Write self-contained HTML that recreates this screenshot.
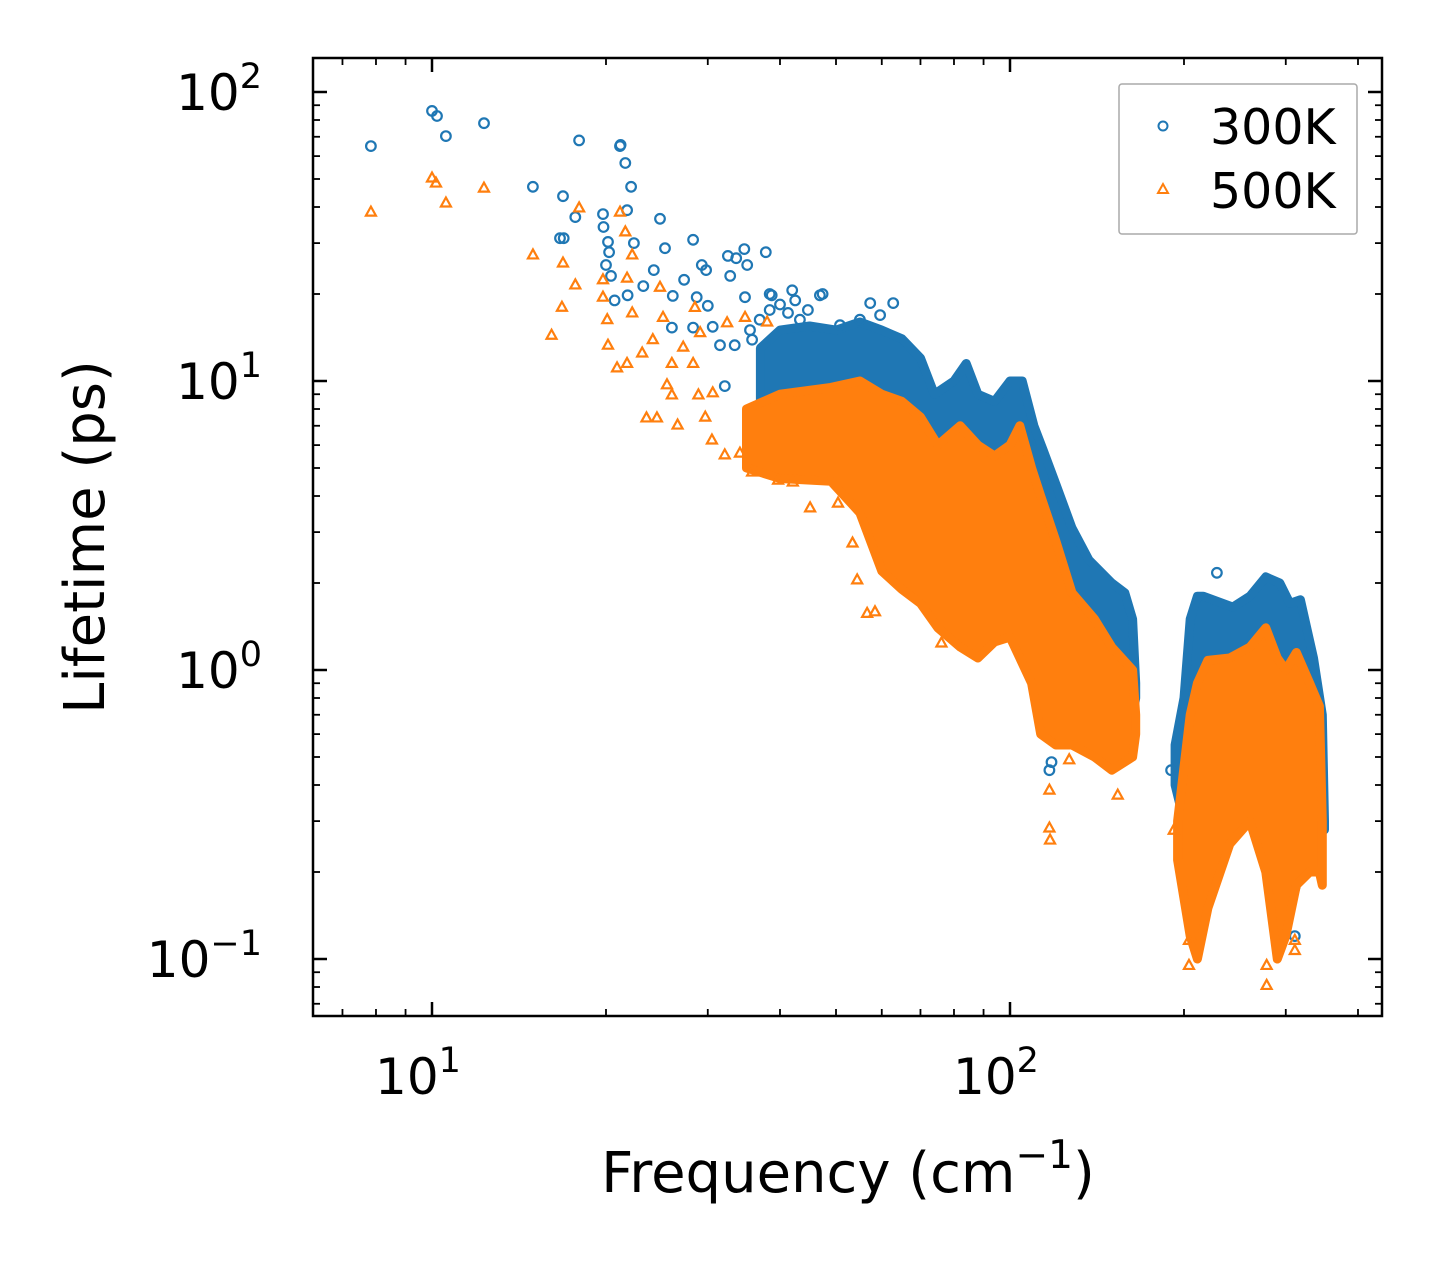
<!DOCTYPE html>
<html><head><meta charset="utf-8"><style>
html,body{margin:0;padding:0;background:#fff}
svg{display:block}
text{font-family:"DejaVu Sans","Liberation Sans",sans-serif;fill:#000}
</style></head><body>
<svg id="chart" width="1442" height="1265" viewBox="0 0 1442 1265" xmlns="http://www.w3.org/2000/svg">
<rect x="0" y="0" width="1442" height="1265" fill="#fff"/>
<defs><clipPath id="plotclip"><rect x="313" y="58" width="1069" height="958"/></clipPath></defs>
<g id="blueLayer" clip-path="url(#plotclip)"></g>
<g id="orangeLayer" clip-path="url(#plotclip)"></g>
<g id="axes"></g>
<text x="848" y="1192" font-size="56" text-anchor="middle">Frequency (cm<tspan dy="-24" font-size="39">−1</tspan><tspan dy="24">)</tspan></text>
<text transform="translate(104,537) rotate(-90)" font-size="56" text-anchor="middle">Lifetime (ps)</text>
<g>
<rect x="1119" y="84" width="238" height="150" rx="3" fill="#fff" stroke="#aaa" stroke-width="1.5"/>
<circle cx="1163" cy="126" r="4.5" fill="none" stroke="#1f77b4" stroke-width="2"/>
<text x="1210" y="144" font-size="49">300K</text>
<polygon points="1163,184 1158,193 1168,193" fill="none" stroke="#ff7f0e" stroke-width="2"/>
<text x="1210" y="208" font-size="49">500K</text>
</g>
</svg>
<script>
// ---- data ----
const xMajorTicks = [10, 100];
const yMajorTicks = [0.1, 1, 10, 100];
const yTickExp = ["−1", "0", "1", "2"];
const xTickExp = ["1", "2"];

// dense-region envelopes: [frequency, upper lifetime, lower lifetime]
const blueEnv1 = [[37,13,7],[40,15,6],[45,15.5,5],[50,15,4.5],[55,16,4],[60,15,3],[65,14,2.5],[70,12,2.2],[74,9,2],[80,10,1.8],[84,11.5,1.6],[88,9,1.5],[94,8.5,1.4],[100,10,1.3],[105,10,1.1],[110,7,0.9],[114,5.8,0.7],[120,4.4,0.6],[128,3.1,0.6],[137,2.4,0.6],[150,2.0,0.55],[158,1.85,0.55],[163,1.5,0.7],[165,0.9,0.8]];
const orangeEnv1 = [[35,8,5],[40,9,4.6],[49,9.5,4.5],[55,10,3.5],[60,9,2.2],[65,8.5,1.9],[70,7.5,1.7],[75,6,1.4],[82,7,1.2],[88,6,1.1],[94,5.5,1.25],[100,6,1.3],[104,7,1.1],[109,5,0.9],[113,4,0.6],[120,2.8,0.55],[128,1.85,0.55],[140,1.5,0.5],[150,1.2,0.45],[163,1.0,0.5],[165,0.7,0.6]];
const blueEnv2 = [[193,0.55,0.4],[200,0.8,0.3],[205,1.5,0.2],[211,1.8,0.15],[216,1.8,0.2],[243,1.65,0.3],[260,1.8,0.35],[277,2.1,0.3],[293,2.0,0.15],[305,1.7,0.15],[318,1.75,0.2],[335,1.1,0.25],[347,0.7,0.3],[350,0.3,0.28]];
const orangeEnv2 = [[195,0.3,0.22],[205,0.7,0.12],[211,0.9,0.1],[220,1.08,0.15],[240,1.1,0.25],[260,1.2,0.3],[277,1.4,0.2],[290,1.1,0.1],[300,1.0,0.12],[313,1.15,0.18],[330,0.9,0.2],[343,0.75,0.2],[347,0.3,0.18]];

// individual points
const blueFreq = [7.84,10,10.2,10.57,12.3,14.95,16.85,16.65,16.9,17.7,17.97,19.76,19.8,20.0,20.16,20.25,20.4,21.15,21.2,21.6,21.75,22.1,22.35,20.7,21.8,23.2,24.2,24.8,25.3,26.0,26.1,27.3,28.3,28.3,28.7,29.3,29.8,30.0,30.6,31.5,32.1,32.5,32.8,33.4,33.6,34.7,34.8,35.1,35.5,35.8,36.9,37.8,38.4,38.7,38.4,40.0,41.3,42.0,42.5,43.3,44.7,46.9,47.4,50.8,55,57.3,62.8,59.6,117,118,204,311,228,190];
const blueLife = [65,86,82.6,70.4,78,47,43.6,31.2,31.2,36.9,68,37.8,34.1,25.2,30.3,27.9,23.1,65,65.6,56.8,39,47,30,19,19.8,21.3,24.2,36.4,28.8,15.3,19.7,22.4,30.8,15.3,19.5,25.2,24.2,18.2,15.4,13.3,9.6,27.1,23.1,13.3,26.6,28.6,19.5,25.2,15,13.9,16.3,27.9,20,19.8,17.6,18.4,17.2,20.6,19,16.3,17.6,19.8,20,15.6,16.3,18.6,18.6,16.9,0.45,0.48,0.2,0.12,2.17,0.45];

const orangeFreq = [7.84,10,10.16,10.57,12.3,14.95,17.97,16.85,17.7,16.78,16.1,21.15,21.6,22.2,19.76,21.75,19.76,20.1,20.16,22.2,20.9,21.75,24.8,25.1,24.1,23.1,23.5,24.5,26.6,26.0,25.5,26.0,27.2,28.5,29.1,28.3,28.9,30.6,29.7,30.5,32.4,34.8,38.0,32.1,34.1,35.8,39.7,42.1,45.1,50.4,53.4,54.4,56.6,58.4,76.1,117,117.3,117,126.6,153.6,192,204,204,278,278,311,311];
const orangeLife = [38.4,50.4,48.4,41.3,46.5,27.3,39.7,25.6,21.5,18.0,14.4,38.4,32.8,27.3,22.4,22.7,19.5,16.3,13.3,17.2,11.1,11.5,21.1,16.6,13.9,12.5,7.45,7.45,7.04,11.5,9.7,8.95,13.1,17.97,14.7,11.5,8.95,9.1,7.5,6.25,15.9,16.6,16,5.55,5.63,4.84,4.54,4.47,3.64,3.78,2.75,2.05,1.57,1.59,1.24,0.284,0.258,0.384,0.489,0.369,0.279,0.116,0.095,0.081,0.095,0.107,0.116];

// ---- scales ----
const X0 = 432, DEC_X = 578, Y0 = 670, DEC_Y = 289;
const L = 313, R = 1382, T = 58, B = 1016;
function xs(f){ return X0 + (Math.log10(f) - 1) * DEC_X; }
function ys(v){ return Y0 - Math.log10(v) * DEC_Y; }

const NS = "http://www.w3.org/2000/svg";
function mk(tag, attrs, parent){
  const e = document.createElementNS(NS, tag);
  for (const k in attrs) e.setAttribute(k, attrs[k]);
  parent.appendChild(e);
  return e;
}

const BLUE = "#1f77b4", ORANGE = "#ff7f0e";
function drawEnv(env, color, parent, name){
  const top = env.map(d => xs(d[0]).toFixed(1) + "," + ys(d[1]).toFixed(1));
  const bot = env.slice().reverse().map(d => xs(d[0]).toFixed(1) + "," + ys(d[2]).toFixed(1));
  const p = mk("polygon", {points: top.concat(bot).join(" "), fill: color, stroke: color, "stroke-width": 9, "stroke-linejoin": "round"}, parent);
  
  
}

const bl = document.getElementById("blueLayer");
const ol = document.getElementById("orangeLayer");
drawEnv(blueEnv1, BLUE, bl, "dense-region-300k-low");
drawEnv(blueEnv2, BLUE, bl, "dense-region-300k-high");
for (let i = 0; i < blueFreq.length; i++){
  const c = mk("circle", {cx: xs(blueFreq[i]).toFixed(1), cy: ys(blueLife[i]).toFixed(1), r: 4.8, fill: "none", stroke: BLUE, "stroke-width": 2.2}, bl);
  
  
}
drawEnv(orangeEnv1, ORANGE, ol, "dense-region-500k-low");
drawEnv(orangeEnv2, ORANGE, ol, "dense-region-500k-high");
for (let i = 0; i < orangeFreq.length; i++){
  const x = xs(orangeFreq[i]), y = ys(orangeLife[i]);
  const t = mk("polygon", {points: `${x},${y-5.5} ${x-5},${y+3.5} ${x+5},${y+3.5}`, fill: "none", stroke: ORANGE, "stroke-width": 2.2}, ol);
  
  
}

// ---- axes ----
const ax = document.getElementById("axes");
const frame = mk("rect", {x: L, y: T, width: R-L, height: B-T, fill: "none", stroke: "#000", "stroke-width": 2.5}, ax);



function line(x1,y1,x2,y2,w){ return mk("line",{x1,y1,x2,y2,stroke:"#000","stroke-width":w},ax); }
for (let d = 1; d <= 1000; d *= 10){
  for (let m = 1; m <= 9; m++){
    const f = d * m, x = xs(f);
    if (x < L || x > R) continue;
    const major = m === 1, len = major ? 14 : 7, w = major ? 2.5 : 1.8;
    const a = line(x, B, x, B - len, w);
    
    
    const b = line(x, T, x, T + len, w);
    
    
  }
}
for (let d = 0.01; d <= 1000; d *= 10){
  for (let m = 1; m <= 9; m++){
    const v = d * m, y = ys(v);
    if (y < T || y > B) continue;
    const major = m === 1, len = major ? 14 : 7, w = major ? 2.5 : 1.8;
    const a = line(L, y, L + len, y, w);
    
    
    const b = line(R, y, R - len, y, w);
    
    
  }
}
xMajorTicks.forEach((f, i) => {
  const t = mk("text", {x: xs(f) - 14, y: 1094, "font-size": 50, "text-anchor": "middle"}, ax);
  
  
  t.innerHTML = `10<tspan dy="-22" font-size="35">${xTickExp[i]}</tspan>`;
});
yMajorTicks.forEach((v, i) => {
  const t = mk("text", {x: 262, y: ys(v) + 18, "font-size": 50, "text-anchor": "end"}, ax);
  
  
  t.innerHTML = `10<tspan dy="-22" font-size="35">${yTickExp[i]}</tspan>`;
});
</script>
</body></html>
